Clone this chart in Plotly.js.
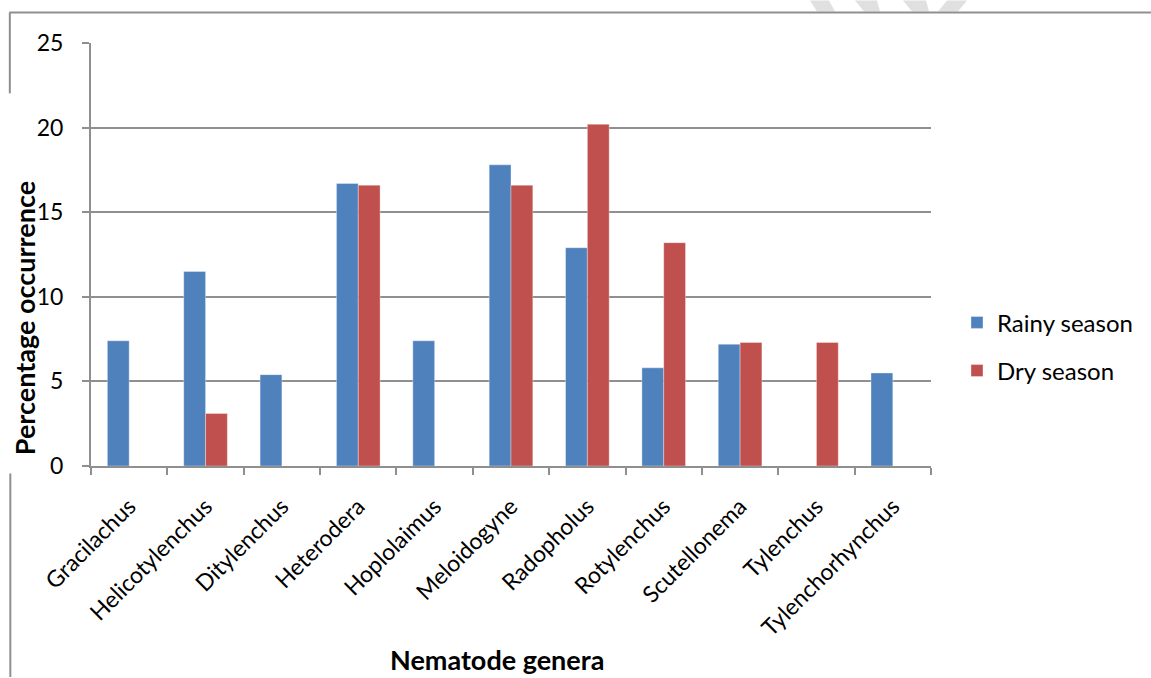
<!DOCTYPE html>
<html>
<head>
<meta charset="utf-8">
<script src="https://cdn.plot.ly/plotly-3.0.1.min.js"></script>
<style>html,body{margin:0;padding:0;background:#fff;}#chart{width:1151px;height:678px;}</style>
</head>
<body>
<div id="chart"></div>
<script>
const categories = ["Gracilachus", "Helicotylenchus", "Ditylenchus", "Heterodera", "Hoplolaimus", "Meloidogyne", "Radopholus", "Rotylenchus", "Scutellonema", "Tylenchus", "Tylenchorhynchus"];
const rainySeason = [7.4, 11.5, 5.4, 16.7, 7.4, 17.8, 12.9, 5.8, 7.2, null, 5.5];
const drySeason = [null, 3.1, null, 16.6, null, 16.6, 20.2, 13.2, 7.3, 7.3, null];
const seriesNames = ["Rainy season", "Dry season"];
const yTicks = [0, 5, 10, 15, 20, 25];

const W = 1151, H = 678;
const L = 90.7, R = 931, T = 42.5, B = 466.5;
const px = x => (x - L) / (R - L);
const py = y => (B - y) / (B - T);

const grey = '#8f8f8f';
const font = 'Lato, "Open Sans", sans-serif';

const traces = [
  {type: 'bar', name: seriesNames[0], x: categories, y: rainySeason, legendgroup: 'a',
   marker: {color: '#4F81BD', line: {color: 'rgba(255,255,255,0.35)', width: 1}}},
  {type: 'bar', name: seriesNames[1], x: categories, y: drySeason, legendgroup: 'b',
   marker: {color: '#C0504D', line: {color: 'rgba(255,255,255,0.35)', width: 1}}}
];

function seg(x0, y0, x1, y1) {
  return {type: 'line', xref: 'paper', yref: 'paper', x0: px(x0), y0: py(y0), x1: px(x1), y1: py(y1),
          line: {color: grey, width: 2}, layer: 'above'};
}
function poly(pts) {
  let d = 'M' + pts.map(p => px(p[0]) + ',' + py(p[1])).join('L') + 'Z';
  return {type: 'path', xref: 'paper', yref: 'paper', path: d, fillcolor: '#e0e0e0', line: {width: 0}, layer: 'below'};
}

const shapes = [
  poly([[810,0],[829,0],[835,11],[817,11]]),
  poly([[855,0],[877,0],[880,11],[864,11]]),
  poly([[903,0],[926,0],[929,11],[912,11]]),
  poly([[947,0],[967,0],[958,11],[938,11]]),
  seg(9, 12, W, 12),
  seg(9.5, 12, 9.5, 93),
  seg(10, 474, 10, H)
];

const layout = {
  width: W, height: H,
  margin: {l: L, r: W - R, t: T, b: H - B, pad: 0},
  paper_bgcolor: '#fff', plot_bgcolor: '#fff',
  barmode: 'group', bargap: 0.4286, bargroupgap: 0,
  font: {family: font, color: '#000', size: 23},
  showlegend: true,
  legend: {x: px(957), y: py(347), xanchor: 'left', yanchor: 'middle',
           font: {family: font, size: 24, color: '#000'}, tracegroupgap: 14,
           traceorder: 'grouped', bgcolor: 'rgba(0,0,0,0)'},
  xaxis: {type: 'category', showline: true, linecolor: grey, linewidth: 2,
          ticks: 'outside', tickson: 'boundaries', ticklen: 7, tickcolor: grey, tickwidth: 2,
          tickangle: -45, tickfont: {family: font, size: 23, color: '#000'}, ticklabelstandoff: 16,
          showgrid: false, zeroline: false, fixedrange: true},
  yaxis: {range: [0, 25], tickvals: yTicks, ticktext: yTicks.map(String),
          showline: true, linecolor: grey, linewidth: 2,
          ticks: 'outside', ticklen: 7, tickcolor: grey, tickwidth: 2,
          showgrid: true, gridcolor: grey, gridwidth: 2, zeroline: false,
          tickfont: {family: font, size: 23, color: '#000'}, ticklabelstandoff: 14, fixedrange: true},
  shapes: shapes,
  annotations: [
    {text: '<b>Percentage occurrence</b>', textangle: -90, xref: 'paper', yref: 'paper',
     x: px(25), y: py(318), xanchor: 'center', yanchor: 'middle', showarrow: false,
     font: {family: font, size: 27, color: '#000'}},
    {text: '<b>Nematode genera</b>', xref: 'paper', yref: 'paper',
     x: px(497), y: py(642), xanchor: 'center', yanchor: 'top', showarrow: false,
     font: {family: font, size: 27, color: '#000'}}
  ]
};

Plotly.newPlot('chart', traces, layout, {displayModeBar: false, staticPlot: true});
</script>
</body>
</html>
